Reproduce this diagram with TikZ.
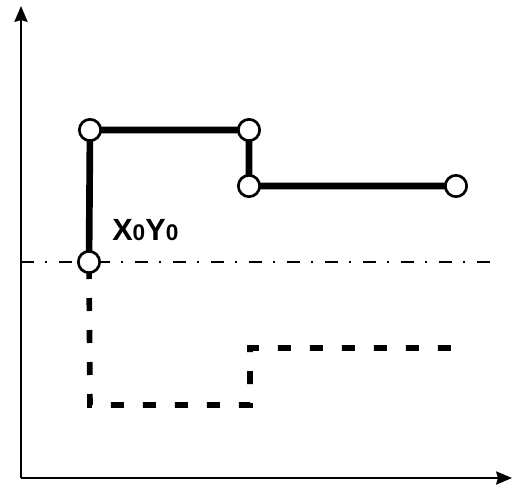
\documentclass[tikz,border=0pt]{standalone}
\usepackage{fontspec}
\setmainfont{Liberation Sans}
\usetikzlibrary{arrows.meta,backgrounds}
\begin{document}
\begin{tikzpicture}[x=0.75pt,y=-0.75pt,
  pt/.style={circle,draw=black,line width=2pt,fill=white,minimum size=16pt,inner sep=0pt},
  thickline/.style={line width=5pt,black},
  axis/.style={line width=1.1pt,-{Stealth[length=12pt,width=10pt,inset=1.5pt]}},
  dashline/.style={line width=4.2pt,dash pattern=on 9.75pt off 14.25pt,dash phase=21pt},
  dashdot/.style={line width=1.8pt,dash pattern=on 9.75pt off 8.25pt on 1.5pt off 9pt}]
\useasboundingbox (0,0) rectangle (512,486);
\coordinate (o) at (21,478);
\coordinate (ytip) at (21,6);
\coordinate (xtip) at (512,478);
\coordinate (dl) at (21,262);
\coordinate (dr) at (497,262);
\coordinate (c1) at (90,405);
\coordinate (c2) at (250,405);
\coordinate (c3) at (250,348);
\coordinate (c4) at (452,348);
\node[pt] (p0) at (89,262) {};
\node[pt] (p1) at (90,130) {};
\node[pt] (p2) at (249,130) {};
\node[pt] (p3) at (249,186) {};
\node[pt] (p4) at (456,186) {};
\node[anchor=base west,inner sep=0pt,font=\bfseries\fontsize{23}{23}\selectfont] (lbl) at (112,240) {X{\fontsize{17}{17}\selectfont 0}Y{\fontsize{17}{17}\selectfont 0}};
\begin{pgfonlayer}{background}
\draw[axis] (o) -- (ytip);
\draw[axis] (o) -- (xtip);
\draw[dashdot] (dl) -- (dr);
\draw[dashline] (p0.center) -- (c1) -- (c2) -- (c3) -- (c4);
\draw[thickline] (p0.center) -- (p1.center) -- (p2.center) -- (p3.center) -- (p4.center);
\end{pgfonlayer}
\end{tikzpicture}
\end{document}
